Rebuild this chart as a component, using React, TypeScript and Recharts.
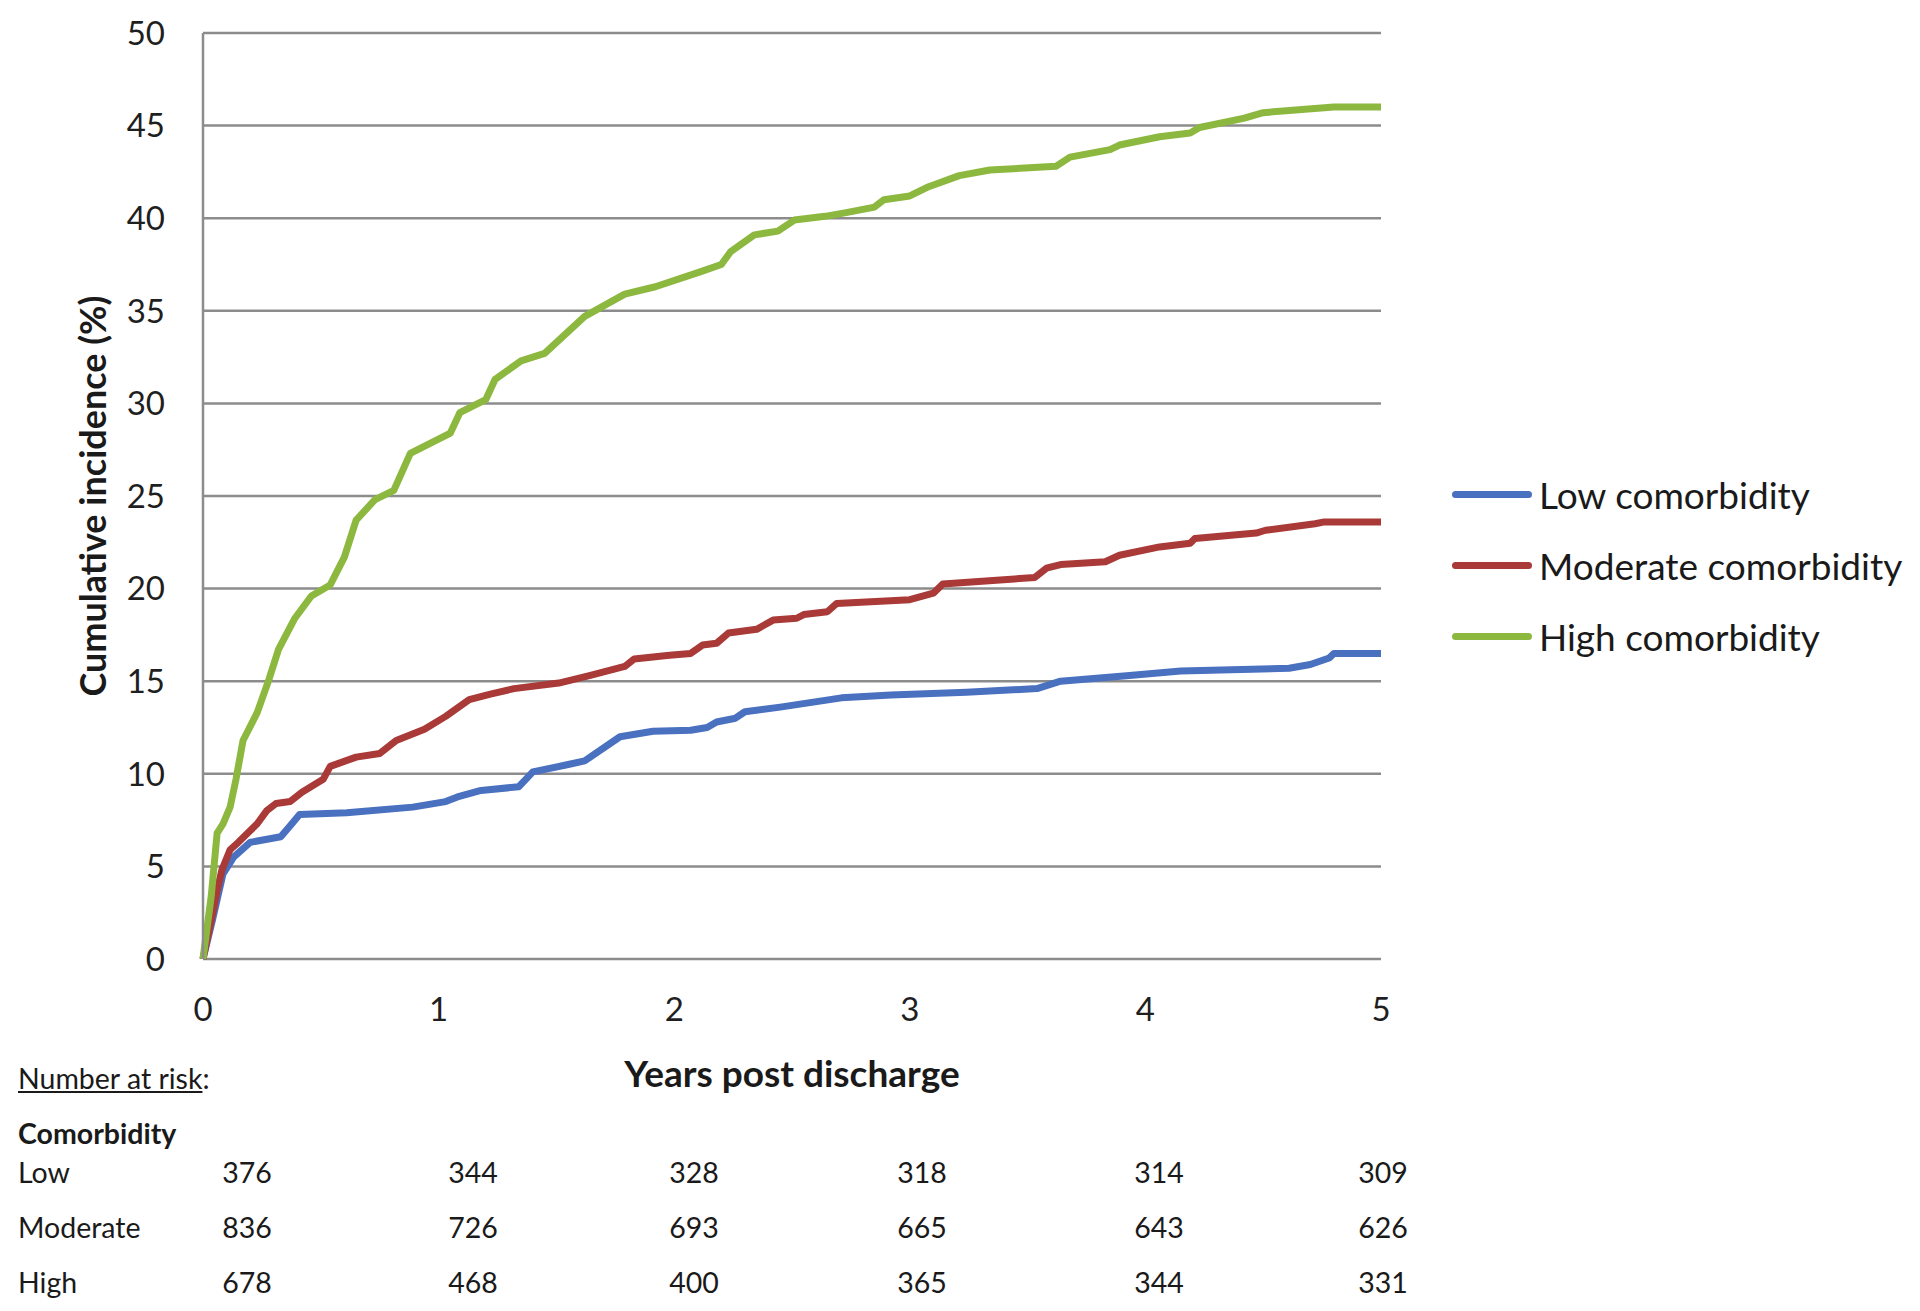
import React from 'react'
import { LineChart, Line, XAxis, YAxis, CartesianGrid } from 'recharts'

// Cumulative incidence (%) by years post discharge
const lowYears = [0, 0.04, 0.085, 0.13, 0.2, 0.33, 0.37, 0.41, 0.61, 0.89, 1.03, 1.08, 1.18, 1.34, 1.37, 1.4, 1.55, 1.62, 1.77, 1.91, 2.07, 2.14, 2.18, 2.26, 2.3, 2.45, 2.71, 2.92, 3.24, 3.54, 3.64, 3.92, 4.15, 4.61, 4.7, 4.78, 4.8, 5]
const lowValues = [0, 2.1, 4.6, 5.5, 6.3, 6.6, 7.2, 7.8, 7.9, 8.2, 8.5, 8.75, 9.1, 9.3, 9.7, 10.1, 10.5, 10.7, 12.0, 12.3, 12.35, 12.5, 12.8, 13.0, 13.35, 13.6, 14.1, 14.25, 14.4, 14.6, 15.0, 15.3, 15.55, 15.7, 15.9, 16.25, 16.5, 16.5]

const moderateYears = [0, 0.04, 0.06, 0.08, 0.115, 0.15, 0.19, 0.23, 0.27, 0.31, 0.37, 0.42, 0.51, 0.54, 0.65, 0.75, 0.82, 0.94, 1.03, 1.13, 1.22, 1.32, 1.51, 1.64, 1.79, 1.83, 1.98, 2.07, 2.12, 2.18, 2.23, 2.35, 2.42, 2.52, 2.55, 2.65, 2.69, 3.0, 3.1, 3.14, 3.53, 3.58, 3.64, 3.83, 3.89, 4.06, 4.19, 4.21, 4.47, 4.51, 4.72, 4.76, 5]
const moderateValues = [0, 2.4, 3.7, 4.8, 5.9, 6.3, 6.8, 7.3, 8.0, 8.4, 8.5, 9.0, 9.7, 10.4, 10.9, 11.1, 11.8, 12.4, 13.1, 14.0, 14.3, 14.6, 14.9, 15.3, 15.8, 16.2, 16.4, 16.5, 16.95, 17.05, 17.6, 17.8, 18.3, 18.4, 18.6, 18.75, 19.2, 19.4, 19.75, 20.25, 20.6, 21.1, 21.3, 21.45, 21.8, 22.25, 22.45, 22.7, 23.0, 23.15, 23.5, 23.6, 23.6]

const highYears = [0, 0.035, 0.06, 0.085, 0.115, 0.14, 0.17, 0.23, 0.28, 0.32, 0.39, 0.46, 0.54, 0.6, 0.65, 0.73, 0.81, 0.88, 1.05, 1.09, 1.2, 1.24, 1.35, 1.45, 1.62, 1.79, 1.92, 2.11, 2.2, 2.24, 2.34, 2.44, 2.51, 2.64, 2.73, 2.85, 2.89, 3.0, 3.08, 3.21, 3.34, 3.62, 3.68, 3.85, 3.89, 4.06, 4.19, 4.23, 4.42, 4.5, 4.8, 5]
const highValues = [0, 3.4, 6.8, 7.3, 8.2, 9.7, 11.8, 13.3, 15.1, 16.7, 18.4, 19.6, 20.2, 21.7, 23.7, 24.8, 25.3, 27.3, 28.4, 29.5, 30.2, 31.3, 32.3, 32.7, 34.7, 35.9, 36.3, 37.1, 37.5, 38.2, 39.1, 39.3, 39.9, 40.1, 40.3, 40.6, 41.0, 41.2, 41.7, 42.3, 42.6, 42.8, 43.3, 43.7, 43.95, 44.4, 44.6, 44.9, 45.4, 45.7, 46.0, 46.0]

const xTicks = [0, 1, 2, 3, 4, 5]
const yTicks = [0, 5, 10, 15, 20, 25, 30, 35, 40, 45, 50]

// Number at risk table
const riskGroups = ['Low', 'Moderate', 'High']
const riskLow = [376, 344, 328, 318, 314, 309]
const riskModerate = [836, 726, 693, 665, 643, 626]
const riskHigh = [678, 468, 400, 365, 344, 331]

const FONT = 'Lato, "Open Sans", sans-serif'

const toPoints = (years: number[], values: number[]) =>
  years.map((year, i) => ({ year, value: values[i] }))

const series = [
  { name: 'Low comorbidity', color: '#4a70c0', data: toPoints(lowYears, lowValues) },
  { name: 'Moderate comorbidity', color: '#a93a38', data: toPoints(moderateYears, moderateValues) },
  { name: 'High comorbidity', color: '#8db840', data: toPoints(highYears, highValues) },
]

const riskRows = [riskLow, riskModerate, riskHigh]
const riskColumnX = [247, 473, 694, 922, 1159, 1383]
const riskRowY = [1172, 1227, 1282]
const tableFont = 28.5

export default function App() {
  return (
    <div style={{ position: 'relative', width: 1920, height: 1311, background: '#fff', fontFamily: FONT }}>
      <style>{'body{margin:0}'}</style>
      <LineChart
        width={1920}
        height={1311}
        margin={{ top: 33, right: 539, bottom: 292, left: 60 }}
      >
        <CartesianGrid vertical={false} stroke="#8c8c8c" strokeWidth={2.5} />
        <XAxis
          dataKey="year"
          type="number"
          domain={[0, 5]}
          ticks={xTicks}
          height={60}
          axisLine={false}
          tickLine={false}
          tickSize={0}
          tickMargin={39}
          tick={{ fontSize: 33, fill: '#1f1f1f', fontFamily: FONT }}
          allowDuplicatedCategory={false}
        />
        <YAxis
          type="number"
          domain={[0, 50]}
          ticks={yTicks}
          width={143}
          axisLine={{ stroke: '#8c8c8c', strokeWidth: 2.5 }}
          tickLine={false}
          tickSize={0}
          tickMargin={38}
          tick={{ fontSize: 33, fill: '#1f1f1f', fontFamily: FONT }}
          label={{
            content: () => (
              <text
                x={92}
                y={496}
                transform="rotate(-90 92 496)"
                textAnchor="middle"
                dominantBaseline="central"
                style={{ fontSize: 36, fontWeight: 700, fill: '#1a1a1a', fontFamily: FONT }}
              >
                Cumulative incidence (%)
              </text>
            ),
          }}
        />
        {series.map((s) => (
          <Line
            key={s.name}
            data={s.data}
            dataKey="value"
            name={s.name}
            type="linear"
            stroke={s.color}
            strokeWidth={7}
            strokeLinejoin="round"
            dot={false}
            activeDot={false}
            isAnimationActive={false}
          />
        ))}
      </LineChart>

      {/* legend */}
      <div style={{ position: 'absolute', left: 1452, top: 459 }}>
        {series.map((s) => (
          <div key={s.name} style={{ display: 'flex', alignItems: 'center', height: 71 }}>
            <div style={{ width: 80, height: 7, borderRadius: 4, background: s.color, marginRight: 7 }} />
            <span style={{ fontSize: 37, color: '#1a1a1a', whiteSpace: 'nowrap' }}>{s.name}</span>
          </div>
        ))}
      </div>

      <div
        style={{
          position: 'absolute',
          left: 792,
          top: 1072,
          transform: 'translate(-50%, -50%)',
          fontSize: 37,
          fontWeight: 700,
          color: '#1a1a1a',
          whiteSpace: 'nowrap',
        }}
      >
        Years post discharge
      </div>

      <div style={{ position: 'absolute', left: 18, top: 1078, transform: 'translateY(-50%)', fontSize: tableFont, color: '#1a1a1a' }}>
        <span style={{ textDecoration: 'underline' }}>Number at risk</span>:
      </div>
      <div style={{ position: 'absolute', left: 18, top: 1133, transform: 'translateY(-50%)', fontSize: tableFont, fontWeight: 700, color: '#1a1a1a' }}>
        Comorbidity
      </div>
      {riskGroups.map((group, r) => (
        <React.Fragment key={group}>
          <div style={{ position: 'absolute', left: 18, top: riskRowY[r], transform: 'translateY(-50%)', fontSize: tableFont, color: '#1a1a1a' }}>
            {group}
          </div>
          {riskRows[r].map((n, c) => (
            <div
              key={c}
              style={{
                position: 'absolute',
                left: riskColumnX[c],
                top: riskRowY[r],
                transform: 'translate(-50%, -50%)',
                fontSize: tableFont,
                color: '#1a1a1a',
              }}
            >
              {n}
            </div>
          ))}
        </React.Fragment>
      ))}
    </div>
  )
}
